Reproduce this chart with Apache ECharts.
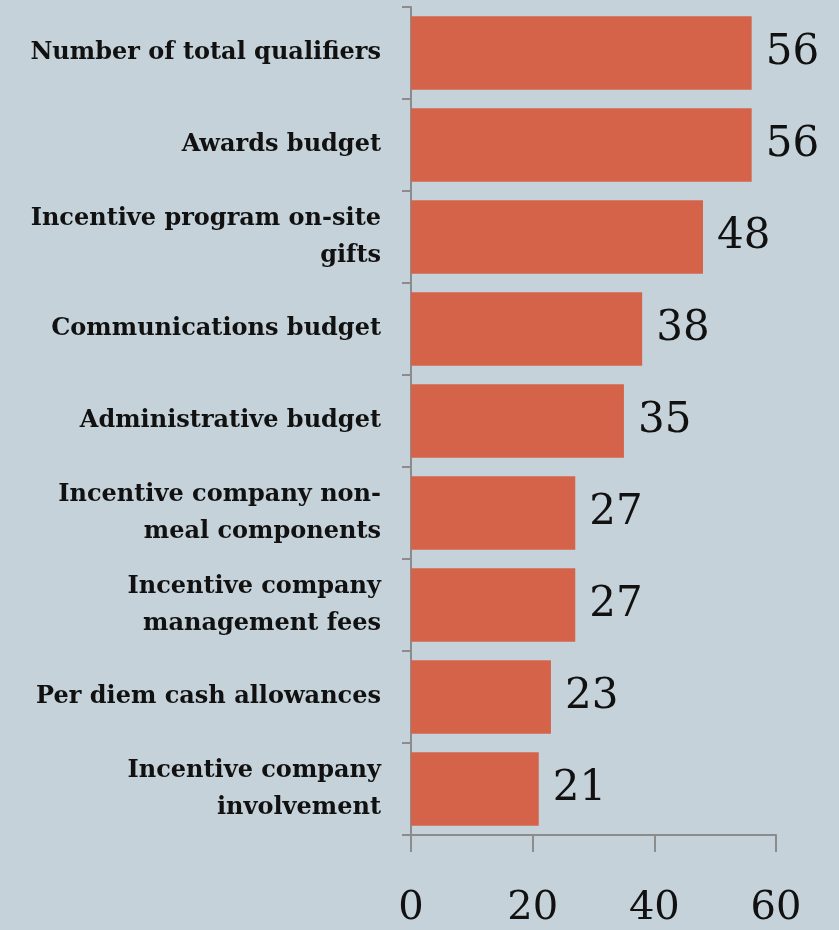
<!DOCTYPE html>
<html>
<head>
<meta charset="utf-8">
<script src="https://cdn.jsdelivr.net/npm/echarts@6/dist/echarts.min.js"></script>
<style>
  html, body { margin: 0; padding: 0; background: #c6d2d9; }
  #chart { width: 839px; height: 930px; }
</style>
</head>
<body>
<div id="chart"></div>
<script>
// Cost elements, listed top to bottom
const categories = [
  'Number of total qualifiers',
  'Awards budget',
  'Incentive program on-site\ngifts',
  'Communications budget',
  'Administrative budget',
  'Incentive company non-\nmeal components',
  'Incentive company\nmanagement fees',
  'Per diem cash allowances',
  'Incentive company\ninvolvement'
];
const values = [56, 56, 48, 38, 35, 27, 27, 23, 21];
const xTicks = { min: 0, max: 60, interval: 20 };

const serif = '"DejaVu Serif", "Liberation Serif", serif';
const axisGray = '#8c8c8c';

const chart = echarts.init(document.getElementById('chart'));
chart.setOption({
  backgroundColor: '#c6d2d9',
  animation: false,
  grid: { left: 411, right: 63, top: 7, bottom: 95 },
  xAxis: {
    type: 'value',
    min: xTicks.min, max: xTicks.max, interval: xTicks.interval,
    splitLine: { show: false },
    axisLine: { show: true, lineStyle: { color: axisGray, width: 2 } },
    axisTick: { show: true, length: 17, lineStyle: { color: axisGray, width: 2 } },
    axisLabel: { margin: 54, fontFamily: serif, fontSize: 40, color: '#111' }
  },
  yAxis: {
    type: 'category',
    inverse: true,
    data: categories,
    axisLine: { show: true, lineStyle: { color: axisGray, width: 2 } },
    axisTick: { show: true, length: 9, lineStyle: { color: axisGray, width: 2 } },
    axisLabel: {
      margin: 30, fontFamily: serif, fontSize: 24, fontWeight: 'bold',
      color: '#111', lineHeight: 37, align: 'right'
    }
  },
  series: [{
    type: 'bar',
    data: values,
    barCategoryGap: '20%',
    itemStyle: { color: '#d4634a' },
    label: {
      show: true, position: 'right', distance: 14,
      fontFamily: serif, fontSize: 42, color: '#111'
    }
  }]
});
</script>
</body>
</html>
